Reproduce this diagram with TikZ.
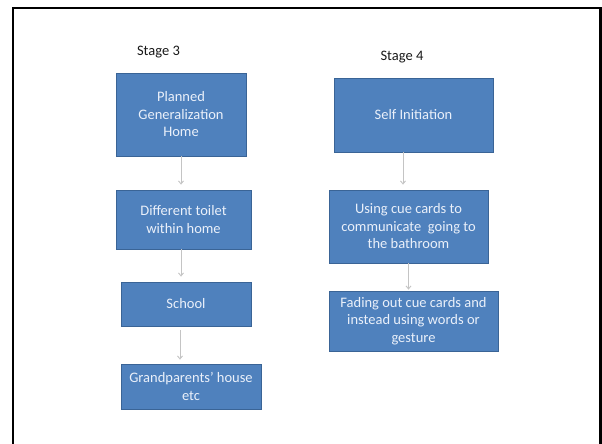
\documentclass[tikz,border=0pt]{standalone}
\usepackage{fontspec}
\setmainfont{Carlito}
\usetikzlibrary{arrows.meta}
\definecolor{boxfill}{HTML}{4F81BD}
\definecolor{boxline}{HTML}{3A6496}
\definecolor{boxtext}{HTML}{EAF0FA}
\definecolor{arrowgrey}{HTML}{C4C4C4}
\tikzset{
  flowbox/.style={rectangle, draw=boxline, line width=0.8pt, fill=boxfill,
    text=boxtext, align=center, inner sep=0pt,
    font=\fontsize{14.5}{17.5}\selectfont},
  stagelabel/.style={font=\fontsize{14.5}{17}\selectfont, text=black!90},
  flowarrow/.style={draw=arrowgrey, line width=0.9pt,
    -{Straight Barb[length=3pt,width=5pt]}},
  frameline/.style={draw=black, line width=2.8pt}
}
\begin{document}
\begin{tikzpicture}[x=1pt,y=-1pt]
\useasboundingbox (0,0) rectangle (602,444);
\fill[white] (0,0) rectangle (602,444);
\draw[frameline] (13,446) -- (13,8) -- (600.5,8) -- (600.5,446);

\node[stagelabel] (st3) at (158.5,52) {Stage 3};
\node[stagelabel] (st4) at (402,57) {Stage 4};

\node[flowbox, minimum width=130pt, minimum height=83pt] (b1) at (181,114.5) {Planned\\Generalization\\Home};
\node[flowbox, minimum width=135pt, minimum height=59pt] (b2) at (183.5,219.5) {Different toilet\\within home};
\node[flowbox, minimum width=130pt, minimum height=44pt] (b3) at (186,304) {School};
\node[flowbox, minimum width=140pt, minimum height=45pt] (b4) at (191,386.5) {Grandparents’ house\\etc};

\node[flowbox, minimum width=159pt, minimum height=74pt] (a1) at (413.5,115) {Self Initiation};
\node[flowbox, minimum width=159pt, minimum height=73pt] (a2) at (408.5,226.5) {Using cue cards to\\communicate\ \ going to\\the bathroom};
\node[flowbox, minimum width=169pt, minimum height=60pt] (a3) at (413.5,321) {Fading out cue cards and\\instead using words or\\gesture};

\draw[flowarrow, shorten >=5pt] (b1.south) -- (b1.south |- b2.north);
\draw[flowarrow, shorten >=5pt] ([xshift=-2.5pt]b2.south) -- ([xshift=-2.5pt]b2.south |- b3.north);
\draw[flowarrow, shorten >=4pt, shorten <=4pt] ([xshift=-6pt]b3.south) -- ([xshift=-6pt]b3.south |- b4.north);
\draw[flowarrow, shorten >=5pt] ([xshift=-10.5pt]a1.south) -- ([xshift=-10.5pt]a1.south |- a2.north);
\draw[flowarrow, shorten >=1pt] (a2.south) -- (a2.south |- a3.north);
\end{tikzpicture}
\end{document}
